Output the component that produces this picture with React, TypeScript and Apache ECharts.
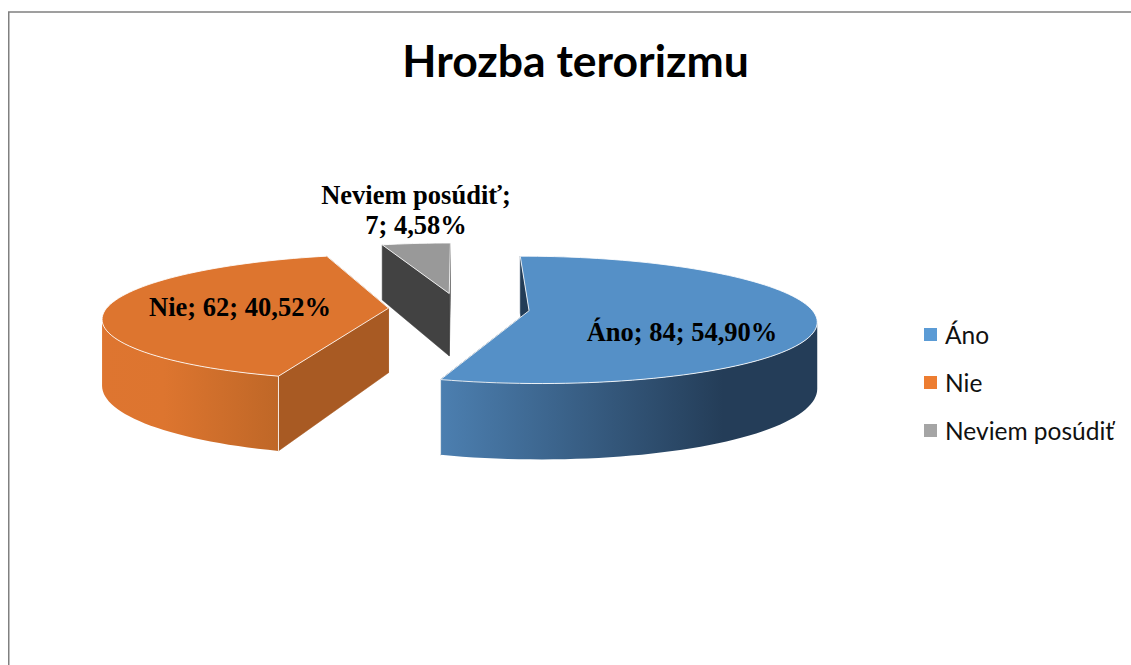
import React, { useEffect, useRef } from "react";
import * as echarts from "echarts";

// ---- data ----
const categories = ["Áno", "Nie", "Neviem posúdiť"];
const counts = [84, 62, 7];
const chartTitle = "Hrozba terorizmu";

// ---- styles ----
const topColors = ["#5590C7", "#DD752F", "#999999"];
const innerColors = ["#223C57", "#A85A23", "#424242"];
const legendColors = ["#5B9BD5", "#ED7D31", "#A5A5A5"];
const wallStops: [number, string][][] = [
  [[0, "#4C7FB0"], [0.75, "#243D58"], [1, "#243D58"]],
  [[0, "#DE7530"], [0.35, "#DD752F"], [1, "#BF6727"]],
  [[0, "#424242"], [1, "#424242"]],
];
const labelFont = "Liberation Serif";
const labelCenters = [
  { x: 682, y: 332, lineBreak: false },
  { x: 240, y: 307, lineBreak: false },
  { x: 416, y: 210, lineBreak: true },
];

// ---- 3D projection layout ----
const VIEW = { x0: 459, y0: 308.3, A: 282, B: 61.7, g: 0.143, thick: 64.6, explode: 0.25 };

function project(U: number, V: number, drop: number) {
  const s = 1 / (1 + VIEW.g * V);
  return [VIEW.x0 + VIEW.A * U * s, VIEW.y0 - VIEW.B * V * s + drop * VIEW.thick * s];
}

const total = counts.reduce((a, b) => a + b, 0);
const spans = counts.map((_, i) => {
  const before = counts.slice(0, i).reduce((a, b) => a + b, 0);
  return [(before / total) * 360, ((before + counts[i]) / total) * 360];
});

function pctLabel(i: number) {
  const pct = ((counts[i] / total) * 100).toFixed(2).replace(".", ",");
  return `${categories[i]}; ${counts[i]}; ${pct}%`;
}

function makeSeries(i: number) {
  return {
    type: "custom",
    name: categories[i],
    coordinateSystem: "none",
    silent: true,
    z: 3 - i,
    itemStyle: { color: legendColors[i] },
    data: [[spans[i][0], spans[i][1]]],
    renderItem: (_params: any, api: any) => {
      const a0 = api.value(0) as number;
      const a1 = api.value(1) as number;
      const mid = (((a0 + a1) / 2) * Math.PI) / 180;
      const ox = VIEW.explode * Math.sin(mid);
      const oy = VIEW.explode * Math.cos(mid);
      const rim = (deg: number, drop: number) => {
        const t = (deg * Math.PI) / 180;
        return project(ox + Math.sin(t), oy + Math.cos(t), drop);
      };
      const apex = (drop: number) => project(ox, oy, drop);
      const arc = (from: number, to: number, drop: number) => {
        const n = Math.max(2, Math.ceil(Math.abs(to - from) / 2));
        const pts: number[][] = [];
        for (let k = 0; k <= n; k++) pts.push(rim(from + ((to - from) * k) / n, drop));
        return pts;
      };
      const children: any[] = [];
      const edge = "rgba(255,255,255,0.85)";
      // inner cut faces
      [a0, a1].forEach((deg) => {
        children.push({
          type: "polygon",
          shape: { points: [apex(0), rim(deg, 0), rim(deg, 1), apex(1)] },
          style: { fill: innerColors[i], stroke: innerColors[i], lineWidth: 0.5 },
        });
      });
      // outer wall: only the front part, cut at the silhouette so that the band does not fold
      let extremeR = 90;
      let extremeL = 270;
      for (let d = 60; d <= 120; d += 0.5) {
        if (rim(d, 0)[0] > rim(extremeR, 0)[0]) extremeR = d;
      }
      for (let d = 240; d <= 300; d += 0.5) {
        if (rim(d, 0)[0] < rim(extremeL, 0)[0]) extremeL = d;
      }
      const w0 = Math.max(a0, extremeR);
      const w1 = Math.min(a1, extremeL);
      if (w1 > w0) {
        children.push({
          type: "polygon",
          shape: { points: [...arc(w0, w1, 0), ...arc(w1, w0, 1)] },
          style: {
            fill: new echarts.graphic.LinearGradient(
              0, 0, 1, 0,
              wallStops[i].map(([offset, color]) => ({ offset, color }))
            ),
          },
        });
        // vertical seam between wall and cut face
        const seam = a1 <= extremeL ? a1 : a0;
        children.push({
          type: "line",
          shape: { x1: rim(seam, 0)[0], y1: rim(seam, 0)[1], x2: rim(seam, 1)[0], y2: rim(seam, 1)[1] },
          style: { stroke: edge, lineWidth: 1 },
        });
      }
      // top face
      children.push({
        type: "polygon",
        shape: { points: [apex(0), ...arc(a0, a1, 0)] },
        style: { fill: topColors[i], stroke: edge, lineWidth: 1 },
      });
      // label
      const lab = labelCenters[i];
      const text = lab.lineBreak
        ? pctLabel(i).replace("; ", ";\n")
        : pctLabel(i);
      children.push({
        type: "text",
        x: lab.x,
        y: lab.y,
        style: {
          text,
          textAlign: "center",
          textVerticalAlign: "middle",
          fontFamily: labelFont,
          fontWeight: "bold",
          fontSize: 26.5,
          lineHeight: 30,
          fill: "#000",
        },
      });
      return { type: "group", children };
    },
  };
}

export default function App() {
  const ref = useRef<HTMLDivElement>(null);
  useEffect(() => {
    document.body.style.margin = "0";
    const chart = echarts.init(ref.current!, undefined, { renderer: "svg" });
    chart.setOption({
      animation: false,
      backgroundColor: "#fff",
      title: {
        text: chartTitle,
        left: 570.5,
        top: 32,
        textAlign: "center",
        textStyle: { fontFamily: "Lato", fontWeight: "bold", fontSize: 44.5, color: "#000" },
      },
      legend: {
        orient: "vertical",
        left: 924,
        top: 322,
        padding: 0,
        icon: "rect",
        itemWidth: 13,
        itemHeight: 13,
        itemGap: 23,
        textStyle: { fontFamily: "Lato", fontSize: 24.5, color: "#111", padding: [0, 0, 0, 3] },
        data: categories.map((name, i) => ({ name, itemStyle: { color: legendColors[i] } })),
      },
      graphic: [
        {
          type: "polyline",
          silent: true,
          shape: { points: [[8.75, 665], [8.75, 12], [1131, 12]] },
          style: { stroke: "#808080", lineWidth: 1.5, fill: "none" },
        },
      ],
      series: categories.map((_, i) => makeSeries(i)),
    });
    return () => chart.dispose();
  }, []);
  return <div ref={ref} style={{ width: 1131, height: 665 }} />;
}
